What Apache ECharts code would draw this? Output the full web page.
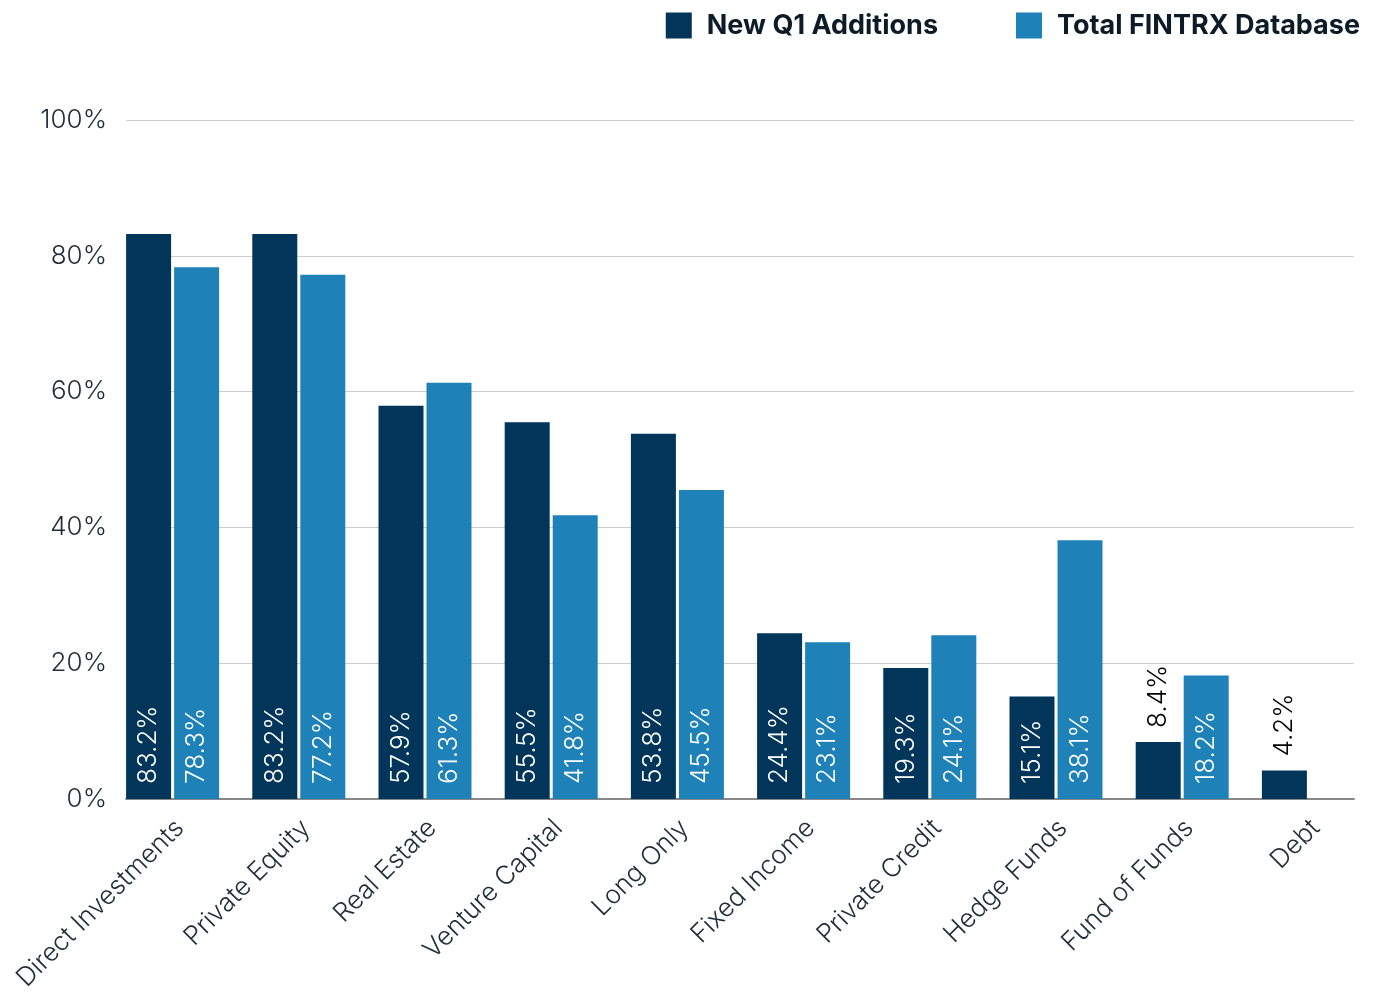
<!DOCTYPE html>
<html>
<head>
<meta charset="utf-8">
<script src="https://cdn.jsdelivr.net/npm/echarts@6/dist/echarts.min.js"></script>
<style>
html,body{margin:0;padding:0;background:#fff;}
#chart{width:1374px;height:994px;}
</style>
</head>
<body>
<div id="chart"></div>
<script>
const categories = ['Direct Investments','Private Equity','Real Estate','Venture Capital','Long Only','Fixed Income','Private Credit','Hedge Funds','Fund of Funds','Debt'];
const newQ1 = [83.2, 83.2, 57.9, 55.5, 53.8, 24.4, 19.3, 15.1, 8.4, 4.2];
const totalDb = [78.3, 77.2, 61.3, 41.8, 45.5, 23.1, 24.1, 38.1, 18.2, null];
const yTicks = [0, 20, 40, 60, 80, 100];
const seriesNames = ['New Q1 Additions', 'Total FINTRX Database'];
const colors = ['#02355a', '#1e81b7'];

const FONT = 'Inter, "Noto Sans", sans-serif';

function makeData(arr) {
  return arr.map(v => {
    if (v === null) return null;
    if (v < 10) {
      return {
        value: v,
        label: {
          position: 'top', distance: 14, color: '#000', align: 'left', verticalAlign: 'middle'
        }
      };
    }
    return v;
  });
}

const baseLabel = {
  show: true,
  position: 'insideBottom',
  distance: 15,
  rotate: 90,
  align: 'left',
  verticalAlign: 'middle',
  color: '#fff',
  fontSize: 26,
  fontFamily: FONT,
  fontWeight: 300,
  formatter: p => p.value.toFixed(1) + '%'
};

const chart = echarts.init(document.getElementById('chart'), null, {renderer: 'canvas'});
chart.setOption({
  backgroundColor: '#fff',
  animation: false,
  color: colors,
  legend: {
    data: seriesNames,
    top: 7,
    right: 9,
    itemWidth: 26,
    itemHeight: 26,
    itemGap: 78,
    icon: 'rect',
    textStyle: { fontSize: 27, fontWeight: 'bold', color: '#0b1c28', fontFamily: FONT, padding: [0, 0, 0, 10] }
  },
  grid: [
    { left: 126, right: 20, top: 120, bottom: 195 },
    { left: 109.5, width: 1262, top: 120, bottom: 195 }
  ],
  xAxis: [
    {
      gridIndex: 0, type: 'category', data: [''],
      axisLine: { show: true, lineStyle: { color: '#888', width: 2 } },
      axisTick: { show: false }, axisLabel: { show: false }
    },
    {
      gridIndex: 1, type: 'category', data: categories,
      axisLine: { show: false }, axisTick: { show: false },
      axisLabel: {
        rotate: 45, fontSize: 26, fontFamily: FONT, fontWeight: 300, color: '#1f2d38',
        margin: 32, interval: 0, padding: [0, -10, 0, 0]
      }
    }
  ],
  yAxis: [
    {
      gridIndex: 0, type: 'value', min: yTicks[0], max: yTicks[yTicks.length-1], interval: 20,
      axisLine: { show: false }, axisTick: { show: false },
      axisLabel: { formatter: '{value}%', fontSize: 26, fontFamily: FONT, fontWeight: 300, color: '#1f2d38', margin: 19, padding: [4, 0, 0, 0] }
    ,
      splitLine: { lineStyle: { color: '#cccccc', width: 1 } }
    },
    {
      gridIndex: 1, type: 'value', min: 0, max: 100, show: false
    }
  ],
  series: [
    {
      name: seriesNames[0], type: 'bar', xAxisIndex: 1, yAxisIndex: 1,
      barWidth: 45, barGap: '6.7%',
      itemStyle: { color: colors[0] },
      label: baseLabel,
      data: makeData(newQ1)
    },
    {
      name: seriesNames[1], type: 'bar', xAxisIndex: 1, yAxisIndex: 1,
      barWidth: 45, barGap: '6.7%',
      itemStyle: { color: colors[1] },
      label: baseLabel,
      data: makeData(totalDb)
    }
  ]
});
</script>
</body>
</html>
